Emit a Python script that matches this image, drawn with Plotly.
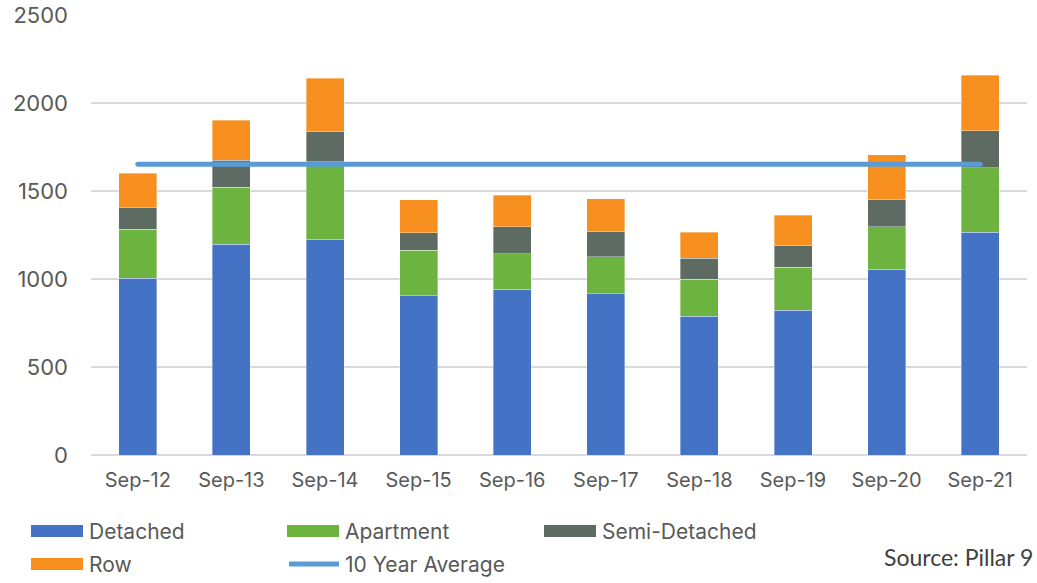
import plotly.graph_objects as go

categories = ["Sep-12", "Sep-13", "Sep-14", "Sep-15", "Sep-16", "Sep-17", "Sep-18", "Sep-19", "Sep-20", "Sep-21"]
detached = [1004, 1197, 1226, 905, 941, 917, 788, 822, 1055, 1267]
apartment = [278, 324, 441, 258, 203, 210, 212, 244, 242, 366]
semi_detached = [125, 155, 170, 100, 153, 142, 119, 123, 152, 208]
row = [194, 227, 303, 186, 180, 187, 148, 173, 256, 318]
ten_year_avg = [1652] * len(categories)
y_ticks = [0, 500, 1000, 1500, 2000, 2500]

series_names = ["Detached", "Apartment", "Semi-Detached", "Row"]
series_values = [detached, apartment, semi_detached, row]
series_colors = ["#4472C4", "#6DB33F", "#5E6B63", "#F7901E"]
avg_name = "10 Year Average"
avg_color = "#5B9BD5"
source_text = "Source: Pillar 9"

TEXT = "#595959"
FONT = "Inter, Open Sans, sans-serif"

fig = go.Figure()
for name, vals, col in zip(series_names, series_values, series_colors):
    fig.add_trace(go.Bar(
        x=categories, y=vals, name=name, marker_color=col,
        marker_line=dict(color="rgba(255,255,255,0.45)", width=0.8),
        showlegend=False,
    ))
fig.add_trace(go.Scatter(
    x=categories, y=ten_year_avg, name=avg_name, mode="lines",
    line=dict(color=avg_color, width=5), showlegend=False,
))

W, H = 1037, 583
L, R, T, B = 91, 10, 15, 128
pw, ph = W - L - R, H - T - B

def px2paper(px, py):
    return (px - L) / pw, (H - B - py) / ph

# Manual legend (3 columns, 2 rows)
legend_items = [(n, c, "bar") for n, c in zip(series_names, series_colors)] + [(avg_name, avg_color, "line")]
col_x = [31, 287, 544]
row_y = [531, 564]
for i, (name, col, kind) in enumerate(legend_items):
    sx = col_x[i % 3]
    sy = row_y[i // 3]
    x0, y0 = px2paper(sx, sy - 6)
    x1, y1 = px2paper(sx + 52, sy + 6)
    if kind == "bar":
        fig.add_shape(type="rect", xref="paper", yref="paper", x0=x0, x1=x1, y0=y1, y1=y0,
                      fillcolor=col, line=dict(width=0))
    else:
        ym = px2paper(0, sy)[1]
        xa, _ = px2paper(sx + 2, sy)
        xb, _ = px2paper(sx + 52, sy)
        fig.add_shape(type="line", xref="paper", yref="paper", x0=xa, x1=xb, y0=ym, y1=ym,
                      line=dict(color=col, width=5), name="avg-legend")
    tx, ty = px2paper(sx + 56, sy)
    fig.add_annotation(x=tx, y=ty, xref="paper", yref="paper", text=name, showarrow=False,
                       xanchor="left", yanchor="middle",
                       font=dict(family=FONT, size=21, color=TEXT))

sx, sy = px2paper(1035, 557)
fig.add_annotation(x=sx, y=sy, xref="paper", yref="paper", text=source_text, showarrow=False,
                   xanchor="right", yanchor="middle", font=dict(family="Lato, sans-serif", size=23, color="#404040"))

fig.update_layout(
    width=W, height=H,
    margin=dict(l=L, r=R, t=T, b=B, pad=0, autoexpand=False),
    barmode="stack", bargap=0.594,
    plot_bgcolor="white", paper_bgcolor="white",
    showlegend=False,
)
fig.update_xaxes(
    type="category", showgrid=False, showline=False, ticks="", automargin=False,
    tickfont=dict(family=FONT, size=20, color=TEXT), ticklabelstandoff=11,
)
fig.update_yaxes(
    range=[0, 2500], tickvals=y_ticks, showgrid=True, gridcolor="#D9D9D9", gridwidth=1.5,
    zeroline=True, zerolinecolor="#D9D9D9", zerolinewidth=1.5, showline=False, ticks="",
    automargin=False,
    tickfont=dict(family=FONT, size=22, color=TEXT), ticklabelstandoff=22,
)

post = (
    "document.body.style.margin='0';document.body.style.overflow='hidden';"
    "document.querySelectorAll('.scatterlayer path.js-line, .shapelayer path').forEach(function(p){"
    "if(p.getAttribute('fill-rule')!=='evenodd'){p.style.strokeLinecap='round';}});"
)
fig.write_html("out.html", config={"displayModeBar": False}, post_script=post)
